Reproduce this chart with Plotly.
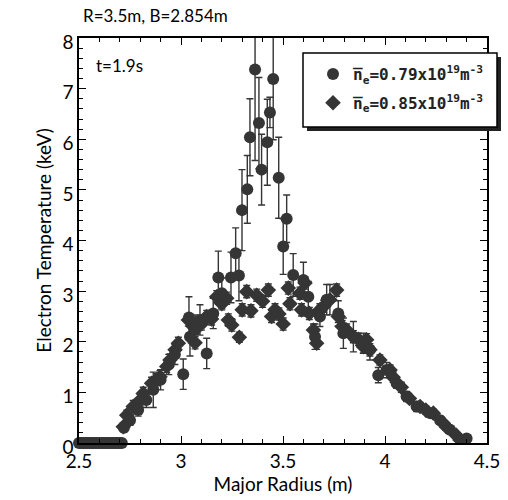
import plotly.graph_objects as go

# ---- data ----
zero_R = [2.50, 2.51, 2.52, 2.53, 2.54, 2.55, 2.56, 2.57, 2.58, 2.59, 2.60,
          2.61, 2.62, 2.63, 2.64, 2.65, 2.66, 2.67, 2.68, 2.69, 2.70, 2.71]
zero_T = [0.0] * len(zero_R)

circ_R = [2.72, 2.75, 2.79, 2.83, 2.864, 2.90, 2.94, 2.97, 3.011, 3.039, 3.044,
          3.069, 3.093, 3.126, 3.158, 3.183, 3.20, 3.245, 3.268, 3.284, 3.299,
          3.325, 3.338, 3.363, 3.382, 3.395, 3.423, 3.436, 3.452, 3.479, 3.501,
          3.518, 3.55, 3.60, 3.624, 3.657, 3.681, 3.714, 3.771, 3.796, 3.845,
          3.894, 3.926, 3.967, 4.008, 4.057, 4.106, 4.155, 4.221, 4.27, 4.319,
          4.376, 4.40]
circ_T = [0.30, 0.45, 0.65, 0.85, 1.05, 1.25, 1.55, 1.75, 1.36, 2.48, 2.10,
          2.23, 2.43, 1.77, 2.56, 3.27, 2.96, 3.27, 3.75, 3.31, 4.60,
          5.01, 6.04, 7.38, 6.32, 5.40, 5.94, 6.53, 7.19, 5.24, 3.88,
          4.43, 3.32, 3.22, 2.89, 2.10, 2.50, 2.83, 2.56, 2.17, 2.10,
          1.97, 1.84, 1.34, 1.44, 1.18, 0.92, 0.72, 0.59, 0.45, 0.26,
          0.06, 0.09]
circ_E = [0.08, 0.10, 0.12, 0.15, 0.35, 0.20, 0.20, 0.20, 0.30, 0.41, 0.38,
          0.30, 0.30, 0.30, 0.30, 0.52, 0.30, 0.50, 0.50, 0.50, 0.80,
          0.67, 0.76, 1.80, 0.90, 0.70, 0.85, 0.30, 1.20, 0.80, 0.55,
          0.47, 0.42, 0.35, 0.30, 0.25, 0.20, 0.30, 0.25, 0.30, 0.30,
          0.20, 0.20, 0.15, 0.15, 0.10, 0.10, 0.10, 0.08, 0.08, 0.05,
          0.03, 0.03]

diam_R = [2.717, 2.734, 2.766, 2.80, 2.815, 2.856, 2.88, 2.897, 2.93, 2.946,
          2.971, 2.987, 3.036, 3.06, 3.069, 3.10, 3.126, 3.15, 3.175, 3.20,
          3.224, 3.232, 3.249, 3.286, 3.30, 3.322, 3.343, 3.371, 3.40, 3.428,
          3.444, 3.461, 3.48, 3.501, 3.526, 3.534, 3.583, 3.591, 3.608, 3.629,
          3.649, 3.665, 3.681, 3.70, 3.73, 3.763, 3.771, 3.79, 3.812, 3.845,
          3.87, 3.894, 3.91, 3.926, 3.975, 4.025, 4.04, 4.08, 4.12, 4.172,
          4.20, 4.237, 4.286, 4.30, 4.35, 4.368]
diam_T = [0.32, 0.55, 0.72, 0.85, 0.98, 1.18, 1.25, 1.31, 1.51, 1.64,
          1.84, 1.97, 2.43, 2.30, 1.98, 2.35, 2.50, 2.45, 2.89, 2.75,
          2.86, 2.43, 2.33, 2.09, 2.63, 2.99, 2.61, 2.92, 2.80, 3.02,
          2.50, 2.63, 2.55, 2.35, 3.06, 2.75, 2.96, 2.63, 3.16, 2.56,
          2.23, 1.97, 2.63, 2.70, 2.83, 3.02, 2.50, 2.30, 2.23, 2.10,
          2.05, 1.90, 2.04, 1.84, 1.64, 1.44, 1.30, 1.10, 0.88, 0.72,
          0.65, 0.59, 0.39, 0.32, 0.15, 0.06]
diam_E = [0.08, 0.10, 0.12, 0.12, 0.12, 0.12, 0.12, 0.12, 0.12, 0.12,
          0.12, 0.12, 0.12, 0.12, 0.12, 0.12, 0.12, 0.12, 0.12, 0.12,
          0.12, 0.12, 0.12, 0.10, 0.12, 0.12, 0.12, 0.12, 0.12, 0.12,
          0.12, 0.12, 0.12, 0.12, 0.12, 0.12, 0.12, 0.12, 0.12, 0.12,
          0.12, 0.12, 0.12, 0.12, 0.30, 0.12, 0.12, 0.12, 0.12, 0.12,
          0.12, 0.12, 0.12, 0.12, 0.10, 0.10, 0.10, 0.10, 0.08, 0.08,
          0.08, 0.08, 0.06, 0.06, 0.05, 0.04]

name1 = "<b>n\u0305<sub>e</sub>=0.79x10<sup>19</sup>m<sup>-3</sup></b>"
name2 = "<b>n\u0305<sub>e</sub>=0.85x10<sup>19</sup>m<sup>-3</sup></b>"

ink = "#353535"

fig = go.Figure()
fig.add_trace(go.Scatter(
    x=diam_R, y=diam_T, mode="markers", name=name2,
    marker=dict(symbol="diamond", size=12, color=ink),
    error_y=dict(type="data", array=diam_E, color=ink, thickness=1.4, width=3.5),
    legendrank=2, legendgroup="b"))
fig.add_trace(go.Scatter(
    x=circ_R, y=circ_T, mode="markers", name=name1,
    marker=dict(symbol="circle", size=12, color=ink),
    error_y=dict(type="data", array=circ_E, color=ink, thickness=1.4, width=3.5),
    legendrank=1, legendgroup="a"))
fig.add_trace(go.Scatter(
    x=zero_R, y=zero_T, mode="markers", showlegend=False, cliponaxis=False,
    marker=dict(symbol="circle", size=12, color=ink), legendgroup="a"))

W, H = 508, 500
L, R, T, B = 79, 21, 38, 57
pw, ph = W - L - R, H - T - B

def px(xp):
    return (xp - L) / pw

def py(yp):
    return (H - B - yp) / ph

# legend box with shadow
fig.add_shape(type="rect", xref="paper", yref="paper", layer="above",
              x0=px(307), x1=px(501), y0=py(131), y1=py(57),
              fillcolor="#222", line=dict(width=0))
fig.add_shape(type="rect", xref="paper", yref="paper", layer="above",
              x0=px(303), x1=px(497), y0=py(127), y1=py(53),
              fillcolor="white", line=dict(color="black", width=1.5))

font_main = "Lato, Open Sans, sans-serif"

fig.update_layout(
    width=W, height=H,
    margin=dict(l=L, r=R, t=T, b=B),
    paper_bgcolor="white", plot_bgcolor="white",
    showlegend=True,
    legend=dict(x=px(313), y=py(57), xanchor="left", yanchor="top",
                bgcolor="rgba(0,0,0,0)", borderwidth=0,
                traceorder="grouped", tracegroupgap=5,
                font=dict(family="DejaVu Sans Mono, monospace", size=16, color="#222")),
    font=dict(family=font_main, color="black"),
    xaxis=dict(range=[2.5, 4.5], dtick=0.5, tick0=2.5, showgrid=False, zeroline=False,
               automargin=False,
               showline=True, linecolor="black", linewidth=1.5, mirror="ticks",
               ticks="inside", ticklen=7, tickwidth=1.3, tickcolor="black",
               minor=dict(dtick=0.1, ticks="inside", ticklen=4, tickcolor="black"),
               tickfont=dict(size=19, family=font_main),
               title=dict(text="Major Radius (m)", font=dict(size=19), standoff=4)),
    yaxis=dict(range=[0, 8], dtick=1, showgrid=False, zeroline=False,
               automargin=False, ticklabelshift=4,
               showline=True, linecolor="black", linewidth=1.5, mirror="ticks",
               ticks="inside", ticklen=7, tickwidth=1.3, tickcolor="black",
               minor=dict(dtick=0.2, ticks="inside", ticklen=4, tickcolor="black"),
               tickfont=dict(size=19, family=font_main),
               title=dict(text="Electron Temperature (keV)", font=dict(size=19), standoff=6)),
    annotations=[
        dict(text="R=3.5m, B=2.854m", xref="paper", yref="paper",
             x=px(81), y=py(15), xanchor="left", yanchor="middle",
             showarrow=False, font=dict(size=17, family=font_main)),
        dict(text="t=1.9s", xref="paper", yref="paper",
             x=px(94), y=py(66), xanchor="left", yanchor="middle",
             showarrow=False, font=dict(size=17, family=font_main)),
    ],
)

fig.write_html("out.html", config={"displayModeBar": False},
               post_script="document.body.style.margin='0';document.body.style.overflow='hidden';")
